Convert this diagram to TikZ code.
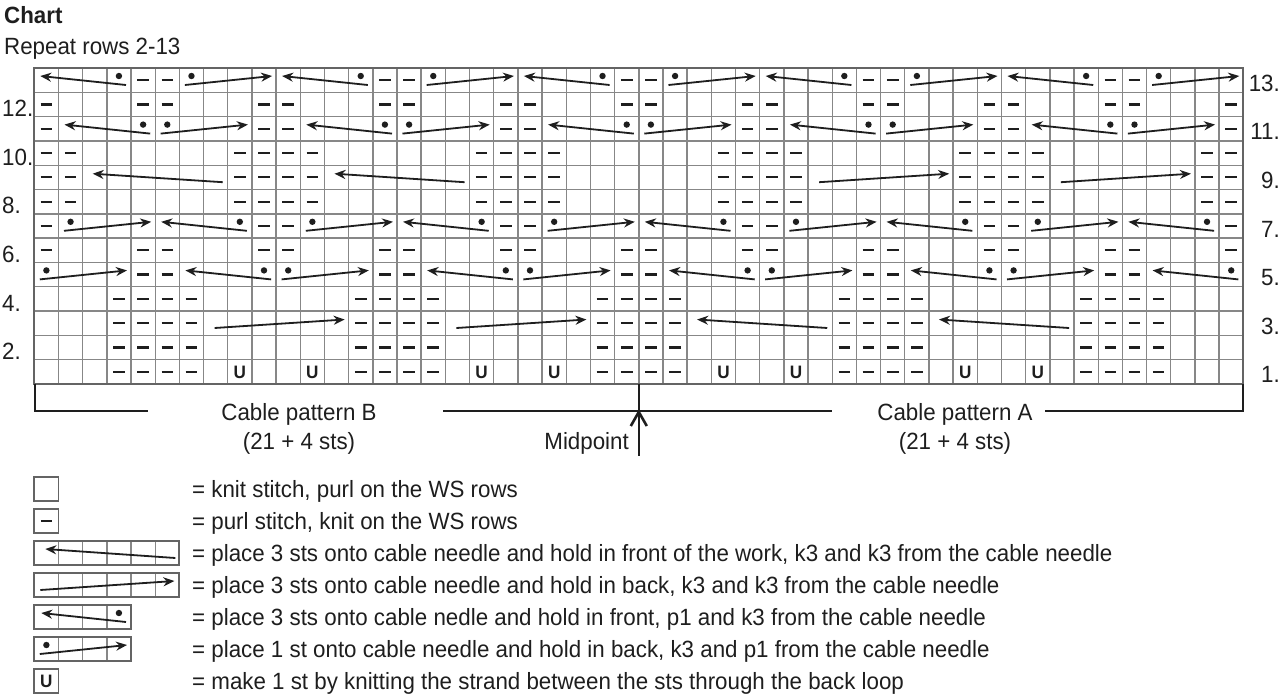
\documentclass[tikz,border=0pt]{standalone}
\usepackage{fontspec}
\setmainfont[FakeStretch=0.95]{Liberation Sans}
\usetikzlibrary{arrows.meta}
\definecolor{gridgray}{RGB}{135,135,135}
\definecolor{bordergray}{RGB}{100,100,100}
\definecolor{ink}{RGB}{30,30,30}
\tikzset{
  gridline/.style={draw=gridgray, line width=1.4pt},
  gridborder/.style={draw=bordergray, line width=2.2pt},
  purlmark/.style={draw=ink, line width=2.2pt},
  cable/.style={draw=ink, line width=1.8pt, -{Stealth[length=11pt,width=9pt]}},
  ustyle/.style={font=\bfseries\fontsize{18}{18}\selectfont, text=ink, inner sep=0pt},
  lbl/.style={font=\fontsize{23.5}{27}\selectfont, text=ink, inner sep=0pt},
  bracket/.style={draw=ink, line width=2.6pt},
}
\newcommand\cellXY[2]{\pgfmathsetmacro\lx{34.3+(#1-1)*24.18}\pgfmathsetmacro\ty{68+(13-#2)*24.3}}
\newcommand\Purl[2]{\cellXY{#1}{#2}\draw[purlmark] (\lx+6.3,\ty+12.15) -- (\lx+17.9,\ty+12.15);}
\newcommand\CabL[2]{\cellXY{#1}{#2}\draw[cable] (\lx+4*24.18-5,\ty+17) -- (\lx+6,\ty+8);\fill[ink] (\lx+3.5*24.18,\ty+8) circle (3.2);}
\newcommand\CabR[2]{\cellXY{#1}{#2}\draw[cable] (\lx+5.5,\ty+17) -- (\lx+4*24.18-4,\ty+8);\fill[ink] (\lx+0.5*24.18,\ty+8) circle (3.2);}
\newcommand\BigL[2]{\cellXY{#1}{#2}\draw[cable] (\lx+6*24.18-5,\ty+17) -- (\lx+10,\ty+8.5);}
\newcommand\BigR[2]{\cellXY{#1}{#2}\draw[cable] (\lx+11,\ty+17) -- (\lx+6*24.18-4,\ty+8.5);}
\newcommand\Uat[2]{\cellXY{#1}{#2}\node[ustyle] (u-#1-#2) at (\lx+12.09,\ty+12.6) {U};}
% legend box: #1 cells, #2 top y
\newcommand\LegBox[2]{\foreach \k in {1,...,#1}{\draw[gridline] ({34.3+(\k-1)*24.18},#2) rectangle ({34.3+\k*24.18},#2+24.3);}\draw[gridborder, line width=1.8pt] (34.3,#2) rectangle ({34.3+#1*24.18},#2+24.3);}
\begin{document}
\begin{tikzpicture}[x=1pt,y=-1pt]
\useasboundingbox[fill=white] (0,0) rectangle (1280,697);
% title
\node[lbl, font=\bfseries\fontsize{23.5}{27}\selectfont, anchor=base west] (title) at (4,23.3) {Chart};
\node[lbl, anchor=base west] (repeat) at (4,54.3) {Repeat rows 2-13};
% grid
\foreach \i in {1,...,49} \draw[gridline] ({34.3+\i*24.18},68) -- ({34.3+\i*24.18},383.9);
\foreach \j in {1,...,12} \draw[gridline] (34.3,{68+\j*24.3}) -- (1243.3,{68+\j*24.3});
\draw[gridborder] (34.3,68) rectangle (1243.3,383.9);
% row 13
\foreach \c in {1,11,21,31,41} {\CabL{\c}{13}}
\foreach \c in {7,17,27,37,47} {\CabR{\c}{13}}
\foreach \c in {5,6,15,16,25,26,35,36,45,46} {\Purl{\c}{13}}
% rows 12 and 6
\foreach \r in {12,6} {\foreach \c in {1,5,6,10,11,15,16,20,21,25,26,30,31,35,36,40,41,45,46,50} {\Purl{\c}{\r}}}
% row 11
\foreach \c in {1,10,11,20,21,30,31,40,41,50} {\Purl{\c}{11}}
\foreach \c in {2,12,22,32,42} {\CabL{\c}{11}}
\foreach \c in {6,16,26,36,46} {\CabR{\c}{11}}
% rows 10, 9, 8
\foreach \r in {10,9,8} {\foreach \c in {1,2,9,10,11,12,19,20,21,22,29,30,31,32,39,40,41,42,49,50} {\Purl{\c}{\r}}}
\BigL{3}{9}\BigL{13}{9}\BigR{33}{9}\BigR{43}{9}
% row 7
\foreach \c in {1,10,11,20,21,30,31,40,41,50} {\Purl{\c}{7}}
\foreach \c in {2,12,22,32,42} {\CabR{\c}{7}}
\foreach \c in {6,16,26,36,46} {\CabL{\c}{7}}
% row 5
\foreach \c in {1,11,21,31,41} {\CabR{\c}{5}}
\foreach \c in {7,17,27,37,47} {\CabL{\c}{5}}
\foreach \c in {5,6,15,16,25,26,35,36,45,46} {\Purl{\c}{5}}
% rows 4..1
\foreach \r in {4,3,2,1} {\foreach \c in {4,5,6,7,14,15,16,17,24,25,26,27,34,35,36,37,44,45,46,47} {\Purl{\c}{\r}}}
\BigR{8}{3}\BigR{18}{3}\BigL{28}{3}\BigL{38}{3}
\foreach \c in {9,12,19,22,29,32,39,42} {\Uat{\c}{1}}
% row numbers
\foreach \r in {12,10,8,6,4,2} {\node[lbl, anchor=base west] (l\r) at (2,{68+(14-\r)*24.3}) {\r.};}
\foreach \r in {13,11,9,7,5,3,1} {\node[lbl, anchor=base east] (r\r) at (1280,{68+(14-\r)*24.3-1}) {\r.};}
% bracket
\draw[bracket] (34.8,383.9) -- (34.8,411) -- (148,411);
\draw[bracket] (443,411) -- (832,411);
\draw[bracket] (1045,411) -- (1242.8,411) -- (1242.8,383.9);
\draw[bracket] (638.8,383.9) -- (638.8,456);
\draw[bracket] (630.8,426) -- (638.8,412) -- (646.8,426);
\node[lbl, anchor=base] (cpB) at (299,420.7) {Cable pattern B};
\node[lbl, anchor=base] (stB) at (299,449) {(21 + 4 sts)};
\node[lbl, anchor=base] (cpA) at (955,420.7) {Cable pattern A};
\node[lbl, anchor=base] (stA) at (955,449) {(21 + 4 sts)};
\node[lbl, anchor=base east] (mid) at (629,449) {Midpoint};
% legend
\LegBox{1}{477}
\LegBox{1}{509}
\draw[purlmark] (34.3+6.6,521.15) -- (34.3+17.6,521.15);
\LegBox{6}{541}
\draw[cable] (34.3+6*24.18-4,558) -- (34.3+11,549);
\LegBox{6}{573}
\draw[cable] (34.3+6,590) -- (34.3+6*24.18-5,581);
\LegBox{4}{605}
\draw[cable] (34.3+4*24.18-5,622) -- (34.3+7,613);\fill[ink] (34.3+3.5*24.18,613) circle (3.2);
\LegBox{4}{637}
\draw[cable] (34.3+5.5,654) -- (34.3+4*24.18-4,645);\fill[ink] (34.3+0.5*24.18,645) circle (3.2);
\LegBox{1}{669}
\node[ustyle] (legU) at (46.4,681.6) {U};
\node[lbl, anchor=base west] (t1) at (192,497.5) {= knit stitch, purl on the WS rows};
\node[lbl, anchor=base west] (t2) at (192,529.5) {= purl stitch, knit on the WS rows};
\node[lbl, anchor=base west] (t3) at (192,561.5) {= place 3 sts onto cable needle and hold in front of the work, k3 and k3 from the cable needle};
\node[lbl, anchor=base west] (t4) at (192,593.5) {= place 3 sts onto cable needle and hold in back, k3 and k3 from the cable needle};
\node[lbl, anchor=base west] (t5) at (192,625.5) {= place 3 sts onto cable nedle and hold in front, p1 and k3 from the cable needle};
\node[lbl, anchor=base west] (t6) at (192,657.5) {= place 1 st onto cable needle and hold in back, k3 and p1 from the cable needle};
\node[lbl, anchor=base west] (t7) at (192,689.5) {= make 1 st by knitting the strand between the sts through the back loop};
\end{tikzpicture}
\end{document}
